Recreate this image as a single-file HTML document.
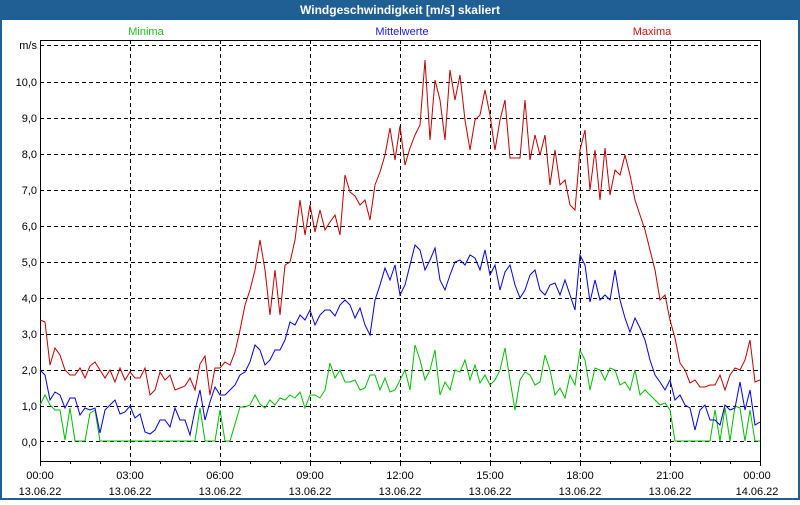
<!DOCTYPE html>
<html><head><meta charset="utf-8"><style>
body{margin:0;width:800px;height:500px;overflow:hidden;background:#fff;font-family:"Liberation Sans","DejaVu Sans",sans-serif}
</style></head><body>
<svg width="800" height="500" xmlns="http://www.w3.org/2000/svg" font-family="Liberation Sans, DejaVu Sans, sans-serif" font-size="11">
<rect x="0" y="0" width="800" height="500" fill="#fff"/>
<rect x="1" y="1" width="798" height="498" fill="none" stroke="#1f5f94" stroke-width="2"/>
<rect x="0" y="0" width="800" height="20" fill="#1f5f94"/>
<text x="400" y="14" fill="#fff" font-weight="bold" font-size="12" text-anchor="middle">Windgeschwindigkeit [m/s] skaliert</text>
<text x="146" y="35" fill="#22bb22" text-anchor="middle">Minima</text>
<text x="402" y="35" fill="#1a1aee" text-anchor="middle">Mittelwerte</text>
<text x="652" y="35" fill="#cc1111" text-anchor="middle">Maxima</text>
<g stroke="#000" stroke-dasharray="4,3" stroke-width="1">
<line x1="40" y1="45.5" x2="760" y2="45.5"/>
<line x1="40" y1="82.5" x2="760" y2="82.5"/>
<line x1="40" y1="118.5" x2="760" y2="118.5"/>
<line x1="40" y1="154.5" x2="760" y2="154.5"/>
<line x1="40" y1="190.5" x2="760" y2="190.5"/>
<line x1="40" y1="226.5" x2="760" y2="226.5"/>
<line x1="40" y1="262.5" x2="760" y2="262.5"/>
<line x1="40" y1="298.5" x2="760" y2="298.5"/>
<line x1="40" y1="334.5" x2="760" y2="334.5"/>
<line x1="40" y1="370.5" x2="760" y2="370.5"/>
<line x1="40" y1="406.5" x2="760" y2="406.5"/>
<line x1="40" y1="441.5" x2="760" y2="441.5"/>
<line x1="130.5" y1="40" x2="130.5" y2="461"/>
<line x1="220.5" y1="40" x2="220.5" y2="461"/>
<line x1="310.5" y1="40" x2="310.5" y2="461"/>
<line x1="400.5" y1="40" x2="400.5" y2="461"/>
<line x1="490.5" y1="40" x2="490.5" y2="461"/>
<line x1="580.5" y1="40" x2="580.5" y2="461"/>
<line x1="670.5" y1="40" x2="670.5" y2="461"/>
</g>
<path d="M40.5 40.5H760.5V461.5H40.5Z" fill="none" stroke="#000"/>
<g stroke="#000">
<path d="M40.5 461v5M70.5 461v3M100.5 461v3M130.5 461v5M160.5 461v3M190.5 461v3M220.5 461v5M250.5 461v3M280.5 461v3M310.5 461v5M340.5 461v3M370.5 461v3M400.5 461v5M430.5 461v3M460.5 461v3M490.5 461v5M520.5 461v3M550.5 461v3M580.5 461v5M610.5 461v3M640.5 461v3M670.5 461v5M700.5 461v3M730.5 461v3M760.5 461v5"/>
</g>
<g text-anchor="end" fill="#000">
<text x="37" y="49">m/s</text>
<text x="37" y="86">10,0</text><text x="37" y="122">9,0</text><text x="37" y="158">8,0</text><text x="37" y="194">7,0</text><text x="37" y="230">6,0</text><text x="37" y="266">5,0</text><text x="37" y="302">4,0</text><text x="37" y="338">3,0</text><text x="37" y="374">2,0</text><text x="37" y="410">1,0</text><text x="37" y="446">0,0</text>
</g>
<g text-anchor="middle" fill="#000">
<text x="40" y="479">00:00</text><text x="40" y="495">13.06.22</text>
<text x="130" y="479">03:00</text><text x="130" y="495">13.06.22</text>
<text x="220" y="479">06:00</text><text x="220" y="495">13.06.22</text>
<text x="310" y="479">09:00</text><text x="310" y="495">13.06.22</text>
<text x="400" y="479">12:00</text><text x="400" y="495">13.06.22</text>
<text x="490" y="479">15:00</text><text x="490" y="495">13.06.22</text>
<text x="580" y="479">18:00</text><text x="580" y="495">13.06.22</text>
<text x="670" y="479">21:00</text><text x="670" y="495">13.06.22</text>
<text x="757" y="479">00:00</text><text x="757" y="495">14.06.22</text>
</g>
<polyline fill="none" stroke="#00c000" stroke-width="1" points="40,405 45,395 50,405 55,410 60,410 65,440 70,408 75,441 80,441 85,441 90,413 95,410 100,441 140,441 195,441 200,408 205,441 215,441 220,410 225,441 230,441 240,407 245,407 250,405 255,395 260,404 265,408 270,400 275,405 280,398 285,400 290,395 295,398 300,392 305,408 310,395 315,395 320,398 325,390 330,363 335,378 340,370 345,382 350,382 355,380 360,390 365,388 370,375 375,375 380,390 385,378 390,392 395,390 400,380 405,370 410,390 415,345 420,360 425,380 430,370 435,350 440,395 445,382 450,390 455,370 460,372 465,360 470,380 475,365 480,383 485,375 490,385 495,380 500,370 505,348 510,380 515,410 520,380 525,372 530,375 535,385 540,382 545,355 550,370 555,395 560,388 565,398 570,375 575,385 580,350 585,360 590,390 595,368 600,370 605,380 610,368 615,370 620,385 625,382 630,390 635,370 640,395 645,390 650,395 655,400 660,405 665,403 670,410 675,441 710,441 715,410 720,441 725,408 730,441 735,406 740,408 745,441 750,410 755,441 760,441"/>
<polyline fill="none" stroke="#0000e0" stroke-width="1" points="40,370 45,375 50,400 55,392 60,395 65,408 70,398 75,398 80,415 85,408 90,410 95,408 100,433 105,410 110,405 115,400 120,414 125,412 130,406 135,418 140,414 145,432 150,434 155,430 160,420 165,420 170,427 175,408 180,420 185,420 190,435 195,410 200,390 205,420 210,402 215,387 220,395 225,395 230,390 235,385 240,375 245,372 250,362 255,345 260,350 265,365 270,360 275,350 280,350 285,340 290,322 295,325 300,315 305,320 310,310 315,325 320,315 325,310 330,310 335,316 340,305 345,300 350,305 355,318 360,308 365,325 370,335 375,300 380,285 385,268 390,280 395,265 400,295 405,285 410,265 415,245 420,250 425,270 430,260 435,248 440,280 445,290 450,275 455,262 460,260 465,265 470,255 475,258 480,270 485,250 490,275 495,265 500,290 505,272 510,265 515,285 520,298 525,290 530,275 535,270 540,290 545,295 550,285 555,283 560,295 565,280 570,295 575,310 580,255 585,265 590,302 595,280 600,300 605,295 610,300 615,270 620,300 625,318 630,332 635,318 640,328 645,340 650,360 655,375 660,382 665,390 670,380 675,400 680,395 685,405 690,408 695,430 700,410 705,405 710,420 715,420 720,425 725,405 730,410 735,408 740,382 745,410 750,390 755,425 760,422"/>
<polyline fill="none" stroke="#c00000" stroke-width="1" points="40,320 45,322 50,365 55,348 60,355 65,370 70,375 75,375 80,368 85,378 90,366 95,362 100,370 105,378 110,370 115,382 120,368 125,380 130,372 135,378 140,378 145,368 150,395 155,390 160,372 165,380 170,375 175,390 180,388 185,386 190,378 195,390 200,364 205,356 210,395 215,368 220,368 225,362 230,365 235,352 240,330 245,305 250,290 255,270 260,240 265,270 270,315 275,270 280,315 285,265 290,262 295,240 300,200 305,235 310,205 315,232 320,210 325,230 330,222 335,215 340,235 345,175 350,192 355,196 360,205 365,200 370,220 375,185 380,172 385,155 390,128 395,160 400,126 405,165 410,148 415,135 420,125 425,60 430,140 435,80 440,100 445,140 450,70 455,100 460,75 465,120 470,150 475,120 480,115 485,90 490,115 495,150 500,120 505,100 510,158 515,158 520,158 525,100 530,160 535,135 540,155 545,135 550,185 555,150 560,185 565,180 570,205 575,210 580,150 585,130 590,190 595,150 600,200 605,148 610,195 615,170 620,175 625,155 630,175 635,200 640,215 645,230 650,250 655,270 660,300 665,295 670,320 675,338 680,363 685,370 690,383 695,380 700,387 705,387 710,385 715,385 720,375 725,390 730,375 735,368 740,370 745,360 750,340 755,382 760,380"/>
</svg>
</body></html>
